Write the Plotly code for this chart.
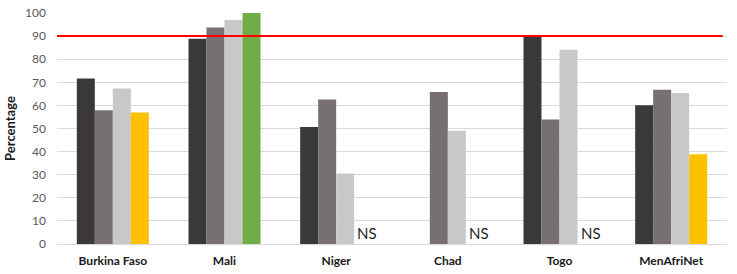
import plotly.graph_objects as go

categories = ["Burkina Faso", "Mali", "Niger", "Chad", "Togo", "MenAfriNet"]
series1 = [71.6, 88.8, 50.6, None, 90.0, 60.1]
series2 = [57.9, 93.7, 62.6, 65.8, 53.9, 66.8]
series3 = [67.3, 97.0, 30.5, 49.0, 84.1, 65.4]
series4 = [56.9, 100.0, None, None, None, 38.9]
series4_labels = ["", "", "NS", "NS", "NS", ""]
series4_colors = ["#ffc000", "#70ad47", "#ffc000", "#ffc000", "#ffc000", "#ffc000"]
threshold = 90
yticks = list(range(0, 101, 10))

fig = go.Figure()
fig.add_bar(x=categories, y=series1, marker=dict(color="#3b3937", line=dict(width=0)))
fig.add_bar(x=categories, y=series2, marker=dict(color="#767170", line=dict(width=0)))
fig.add_bar(x=categories, y=series3, marker=dict(color="#c8c8c8", line=dict(width=0)))
fig.add_bar(x=categories, y=series4, marker=dict(color=series4_colors, line=dict(width=0)))

for cat, lab in zip(categories, series4_labels):
    if lab:
        fig.add_annotation(x=cat, y=0, xref="x", yref="y", text=lab, showarrow=False,
                           xanchor="center", yanchor="bottom", xshift=31, yshift=0,
                           font=dict(family="Lato, Open Sans, sans-serif", size=15, color="#262626"))

fig.add_shape(type="line", xref="paper", yref="y", x0=0, x1=0.9935, y0=threshold, y1=threshold,
              line=dict(color="#ff0000", width=2))

fig.update_layout(
    width=737, height=274,
    margin=dict(l=57, r=10, t=13, b=30, autoexpand=False),
    barmode="group", bargap=0.355, bargroupgap=0,
    plot_bgcolor="white", paper_bgcolor="white",
    showlegend=False,
    font=dict(family="Lato, Open Sans, sans-serif", size=12, color="#404040"),
    yaxis=dict(range=[0, 100], tickvals=yticks, gridcolor="#d9d9d9", gridwidth=1,
               zeroline=False, showline=False, ticks="", ticklen=0, automargin=False,
               ticklabelstandoff=10,
               tickfont=dict(size=12, color="#595959"),
               title=dict(text="<b>Percentage</b>", font=dict(size=13, color="#1a1a1a"), standoff=6)),
    xaxis=dict(showline=True, linecolor="#d9d9d9", linewidth=1, ticks="", automargin=False,
               ticklabelstandoff=6,
               tickfont=dict(size=12, color="#1a1a1a"),
               tickvals=categories, ticktext=["<b>%s</b>" % c for c in categories]),
)

fig.write_html("out.html", config={"displayModeBar": False},
               post_script="document.body.style.margin='0';document.body.style.padding='0';")
